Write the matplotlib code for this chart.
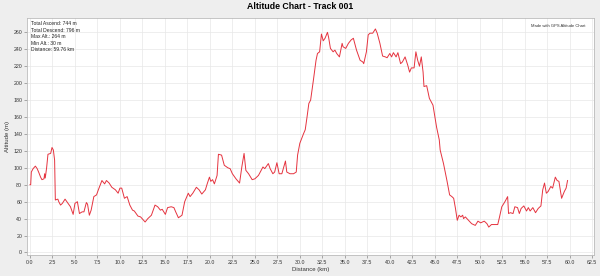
import matplotlib
matplotlib.use("Agg")
import matplotlib.pyplot as plt

title = "Altitude Chart - Track 001"
info_lines = ["Total Ascend: 744 m", "Total Descend: 796 m", "Max Alt.: 264 m",
              "Min Alt.: 30 m", "Distance: 59.76 km"]
credit = "Made with GPS Altitude Chart"
x_label = "Distance (km)"
y_label = "Altitude (m)"

distance_km = [
    0.0, 0.08, 0.15, 0.35, 0.6, 0.8, 1.0, 1.18, 1.33, 1.56, 1.63, 1.7, 1.85, 2.0, 2.3, 2.45,
    2.6, 2.74, 2.82, 3.1, 3.2, 3.4, 3.6, 3.9, 4.3, 4.5, 4.8, 5.0, 5.27, 5.5, 5.8, 6.0,
    6.27, 6.4, 6.6, 6.8, 7.1, 7.4, 7.6, 8.0, 8.3, 8.5, 8.8, 9.1, 9.5, 9.8, 10.0, 10.2,
    10.5, 10.8, 11.1, 11.4, 11.6, 12.0, 12.3, 12.8, 13.1, 13.5, 13.9, 14.2, 14.5, 14.7,
    15.05, 15.3, 15.7, 16.0, 16.2, 16.5, 16.9, 17.2, 17.6, 17.8, 18.1, 18.5, 18.8, 19.1,
    19.5, 19.7, 19.95, 20.1, 20.3, 20.5, 20.8, 20.95, 21.3, 21.6, 22.0, 22.25, 22.5, 22.9,
    23.3, 23.55, 23.8, 24.0, 24.3, 24.7, 25.0, 25.4, 25.6, 25.9, 26.1, 26.5, 26.7, 27.0,
    27.2, 27.45, 27.7, 28.0, 28.4, 28.55, 28.9, 29.3, 29.6, 29.75, 30.0, 30.4, 30.6, 30.8,
    31.0, 31.2, 31.5, 31.8, 31.96, 32.2, 32.4, 32.6, 32.8, 33.07, 33.2, 33.4, 33.7, 33.9,
    34.1, 34.4, 34.7, 34.8, 35.1, 35.4, 35.7, 35.95, 36.1, 36.3, 36.7, 37.0, 37.1, 37.4,
    37.6, 37.8, 38.1, 38.4, 38.6, 38.9, 39.2, 39.5, 39.7, 40.0, 40.2, 40.4, 40.7, 40.9,
    41.2, 41.4, 41.7, 42.0, 42.2, 42.4, 42.7, 42.9, 43.1, 43.3, 43.5, 43.7, 43.8, 44.1,
    44.4, 44.8, 45.2, 45.5, 45.6, 45.97, 46.35, 46.65, 46.9, 47.1, 47.3, 47.5, 47.7, 47.9,
    48.1, 48.2, 48.4, 48.75, 49.1, 49.5, 49.8, 50.1, 50.5, 50.8, 51.0, 51.3, 51.7, 52.0,
    52.2, 52.45, 52.8, 53.1, 53.2, 53.4, 53.7, 53.9, 54.2, 54.4, 54.6, 54.9, 55.2, 55.4,
    55.6, 55.9, 56.2, 56.5, 56.8, 57.0, 57.2, 57.4, 57.6, 57.9, 58.1, 58.4, 58.6, 58.8,
    59.1, 59.4, 59.6, 59.76,
]
altitude_m = [
    80, 80, 95, 99, 102, 99, 94, 89, 86, 87, 93, 88, 100, 116, 117, 124,
    121, 109, 62, 63, 60, 56, 58, 63, 57, 54, 45, 58, 60, 46, 48, 48,
    59, 57, 44, 50, 66, 68, 74, 85, 81, 85, 82, 77, 74, 70, 76, 76,
    64, 66, 56, 50, 49, 43, 42, 36, 40, 44, 56, 54, 50, 51,
    45, 53, 54, 53, 48, 41, 44, 60, 70, 66, 70, 77, 74, 69,
    74, 81, 89, 84, 86, 81, 91, 116, 115, 103, 100, 99, 93, 87,
    82, 101, 117, 97, 93, 86, 87, 91, 95, 101, 99, 105, 99, 93,
    95, 106, 93, 93, 108, 95, 93, 93, 95, 115, 129, 140, 145, 160,
    176, 180, 203, 227, 235, 237, 258, 250, 253, 260, 254, 241, 237, 239,
    235, 231, 247, 243, 241, 247, 251, 253, 247, 239, 227, 225, 223, 237,
    257, 259, 259, 264, 259, 247, 232, 231, 230, 235, 231, 236, 231, 236,
    223, 225, 231, 221, 213, 218, 218, 237, 227, 220, 231, 213, 196, 197,
    182, 174, 148, 133, 121, 105, 85, 68, 66, 64, 52, 38, 44, 42,
    44, 40, 42, 38, 34, 32, 37, 35, 37, 34, 30, 33, 33, 33,
    42, 54, 60, 66, 46, 47, 46, 54, 53, 46, 52, 55, 49, 53,
    49, 53, 47, 52, 55, 74, 82, 70, 72, 78, 76, 89, 85, 84,
    64, 72, 76, 85,
]
x_ticks = [i * 2.5 for i in range(26)]
x_tick_labels = [f"{v:.1f}" for v in x_ticks]
y_ticks = list(range(0, 261, 20))

plt.rcParams['font.family'] = ['Liberation Sans', 'DejaVu Sans']

fig = plt.figure(figsize=(6.0, 2.76), dpi=100, facecolor='#eeeeee')
ax = fig.add_axes([0.045, 0.076, 0.945, 0.859])
ax.set_facecolor('white')

ax.plot(distance_km, altitude_m, color='#e5333f', lw=0.7)

ax.set_xlim(-0.33, 62.7)
ax.set_ylim(-3, 277)
ax.set_xticks(x_ticks)
ax.set_xticklabels(x_tick_labels)
ax.set_yticks(y_ticks)
ax.tick_params(labelsize=3.8, length=2, width=0.5, color='#888888', pad=1.5, labelcolor='#333333')
ax.grid(True, color='#e8e8e8', lw=0.5)
ax.set_axisbelow(True)
for s in ax.spines.values():
    s.set_color('#bbbbbb')
    s.set_linewidth(0.6)

ax.set_xlabel(x_label, fontsize=4.3, labelpad=1.5, color='#333333')
ax.set_ylabel(y_label, fontsize=4.3, labelpad=2, color='#333333')

fig.text(0.5, 0.975, title, ha='center', va='center', fontsize=6.3, fontweight='bold')

ax.text(0.007, 0.985, "\n".join(info_lines), transform=ax.transAxes, ha='left', va='top',
        fontsize=3.6, linespacing=1.35, color='#222222')
ax.text(0.985, 0.975, credit, transform=ax.transAxes, ha='right', va='top',
        fontsize=3.0, color='#333333')

fig.savefig("out.png", dpi=100, facecolor=fig.get_facecolor())
